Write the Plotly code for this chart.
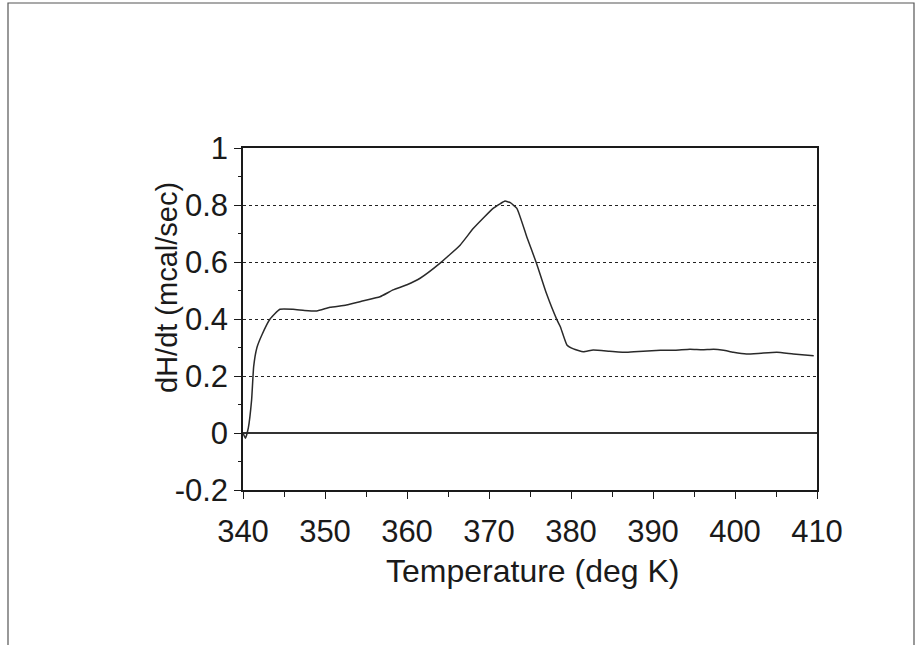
import plotly.graph_objects as go

# DSC scan: heat flow vs temperature
temperature_K = [340.0, 340.3, 340.65, 341.05, 341.3, 341.7, 342.3, 343.3, 344.5, 346.1,
                 347.5, 349.0, 350.6, 352.6, 354.7, 356.7, 358.3, 360.0, 361.6, 364.0,
                 366.5, 368.1, 370.5, 371.4, 371.95, 372.6, 373.4, 374.6, 375.8, 377.0,
                 378.3, 378.7, 379.5, 380.3, 381.5, 382.7, 384.7, 386.8, 388.8, 390.9,
                 392.7, 394.5, 396.0, 397.4, 398.6, 399.8, 401.4, 403.2, 405.1, 407.1,
                 409.6]
heat_flow = [0.0, -0.018, 0.018, 0.116, 0.233, 0.30, 0.344, 0.40, 0.434, 0.434,
             0.43, 0.428, 0.441, 0.449, 0.464, 0.478, 0.502, 0.52, 0.543, 0.595,
             0.66, 0.718, 0.788, 0.805, 0.814, 0.808, 0.788, 0.689, 0.595, 0.49,
             0.396, 0.373, 0.309, 0.295, 0.285, 0.291, 0.287, 0.283, 0.287, 0.29,
             0.29, 0.294, 0.292, 0.294, 0.29, 0.283, 0.277, 0.28, 0.283, 0.277,
             0.271]

x_ticks = [340, 350, 360, 370, 380, 390, 400, 410]
y_ticks = [-0.2, 0, 0.2, 0.4, 0.6, 0.8, 1]
y_tick_text = ["-0.2", "0", "0.2", "0.4", "0.6", "0.8", "1"]
x_title = "Temperature (deg K)"
y_title = "dH/dt (mcal/sec)"

INK = "#1a1a1a"
FONT = "Liberation Sans, Arial, sans-serif"

fig = go.Figure()
fig.add_trace(go.Scatter(
    x=temperature_K, y=heat_flow, mode="lines",
    line=dict(color="#2a2a2a", width=1.5, shape="spline", smoothing=0.4),
    showlegend=False, hoverinfo="skip",
))

fig.update_layout(
    width=917, height=645,
    margin=dict(l=243, r=100, t=148, b=155),
    paper_bgcolor="white", plot_bgcolor="white",
    font=dict(family=FONT, color=INK, size=31),
    xaxis=dict(
        range=[340, 410], tickvals=x_ticks, ticks="outside", ticklen=7,
        tickwidth=1.2, tickcolor=INK, showline=True, linecolor=INK, linewidth=1.5,
        mirror=True, showgrid=False, zeroline=False, ticklabelstandoff=6,
        minor=dict(dtick=5, tick0=340, ticks="outside", ticklen=5, tickcolor=INK, tickwidth=1.2),
        tickfont=dict(size=31),
    ),
    xaxis2=dict(
        range=[340, 410], overlaying="x", anchor="y", side="bottom",
        tickvals=x_ticks, ticks="inside", ticklen=7, tickwidth=1.2, tickcolor=INK,
        showticklabels=False, showgrid=False, zeroline=False, showline=False,
        minor=dict(dtick=5, tick0=340, ticks="inside", ticklen=4, tickcolor=INK, tickwidth=1.2),
    ),
    yaxis=dict(
        range=[-0.2, 1], tickvals=y_ticks, ticktext=y_tick_text, ticks="outside",
        ticklen=7, tickwidth=1.2, tickcolor=INK, showline=True, linecolor=INK,
        linewidth=1.5, mirror=True, showgrid=True, gridcolor="#222222", gridwidth=1.2,
        griddash="dot", zeroline=True, zerolinecolor="#333333", zerolinewidth=1.8,
        minor=dict(dtick=0.1, tick0=-0.2, ticks="outside", ticklen=3, tickcolor=INK, tickwidth=1.2),
        tickfont=dict(size=31),
    ),
    yaxis2=dict(
        range=[-0.2, 1], overlaying="y", anchor="x", side="left",
        tickvals=y_ticks, ticks="inside", ticklen=0, showticklabels=False,
        showgrid=False, zeroline=False, showline=False,
        minor=dict(dtick=0.1, tick0=-0.2, ticks="inside", ticklen=3, tickcolor=INK, tickwidth=1.2),
    ),
    annotations=[
        dict(text=x_title, xref="paper", yref="paper", x=289 / 574, y=-81 / 342,
             xanchor="center", yanchor="middle", showarrow=False,
             font=dict(size=32, family=FONT, color=INK)),
        dict(text=y_title, xref="paper", yref="paper", x=-76 / 574, y=202 / 342,
             xanchor="center", yanchor="middle", showarrow=False, textangle=-90,
             font=dict(size=29, family=FONT, color=INK)),
    ],
    shapes=[dict(
        type="rect", xref="paper", yref="paper",
        x0=-235 / 574, x1=671 / 574, y0=-170 / 342, y1=487 / 342,
        line=dict(color="#555555", width=1.2), fillcolor="rgba(0,0,0,0)", layer="below",
    )],
)

fig.write_html("out.html")
